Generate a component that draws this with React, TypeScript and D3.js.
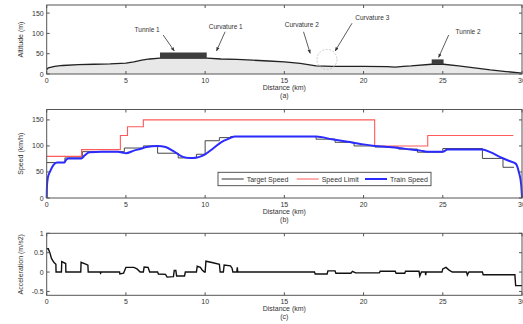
import * as d3 from "d3";

// distance axis shared by the three panels
const distTicks = [0, 5, 10, 15, 20, 25, 30];

// (a) altitude profile
const altKm = [0, 0.1, 0.5, 1, 2, 3, 4, 5, 5.5, 6, 6.5, 7.15, 10.1, 11, 12, 13, 14, 15, 16, 17, 18, 20, 21.5, 22, 22.5, 23, 24.3, 25.05, 26, 27, 28, 29, 30];
const altM = [11, 15, 19, 21, 23, 24, 25, 27, 30, 34, 37, 39, 39, 37, 36, 34, 32, 30, 26, 20, 19, 19, 18, 17, 19, 20, 24, 24, 20, 15, 10, 6, 2];
const altTicks = [0, 50, 100, 150];
const tunnelStart = [7.15, 24.3];
const tunnelEnd = [10.1, 25.05];
const tunnelLow = [39, 24];
const tunnelHigh = [53, 36];
const noteText = ["Tunnle 1", "Curvature 1", "Curvature 2", "Curvature 3", "Tunnle 2"];
const noteKm = [6.34, 11.3, 16.1, 20.55, 26.6];
const noteAlt = [108, 116, 121, 137, 104];
const arrowFromKm = [7.35, 11.26, 16.21, 19.27, 25.37];
const arrowFromAlt = [96, 104, 104, 125, 96];
const arrowToKm = [8.05, 10.72, 16.63, 18.21, 24.74];
const arrowToAlt = [57, 57, 51, 57, 41];

// (b) speeds
const speedTicks = [0, 50, 100, 150];
const limitKm = [0, 2.2, 4.65, 5.1, 6.1, 20.7, 24.05, 29.45];
const limitKmh = [80, 93, 120, 137, 150, 100, 120];
const targetKm = [0, 1.15, 2.25, 4.9, 6.1, 7.0, 8.3, 9.45, 10.0, 10.9, 11.6, 17.0, 18.2, 19.4, 20.7, 22.2, 23.4, 25.0, 27.5, 28.8, 29.5];
const targetKmh = [68, 77, 89, 96, 100, 86, 77, 84, 110, 116, 118, 113, 107, 100, 98, 94, 88, 95, 76, 59];
const trainKm = [0, 0.02, 0.08, 0.2, 0.42, 0.65, 1.1, 1.2, 1.35, 2.2, 2.4, 2.7, 3.5, 4.5, 4.8, 5.0, 5.5, 6.0, 6.3, 7.0, 7.5, 8.0, 8.6, 9.0, 9.5, 10.0, 10.5, 11.0, 11.5, 11.9, 17.0, 18.0, 19.0, 20.0, 20.7, 21.5, 22.2, 23.0, 23.6, 24.0, 25.0, 25.3, 26.0, 27.5, 28.0, 28.6, 29.2, 29.6, 29.8, 29.95, 30.0];
const trainKmh = [0, 25, 40, 50, 63, 68, 68, 72, 76, 76, 82, 88, 89, 89, 87, 86, 91, 95, 98, 100, 98, 90, 79, 77, 78, 84, 95, 107, 114, 118, 118, 113, 108, 103, 100, 98, 96, 93, 91, 89, 89, 93, 93, 93, 88, 79, 71, 66, 50, 25, 0];
const legendNames = ["Target Speed", "Speed Limit", "Train Speed"];

// (c) acceleration
const accTicks = [-0.5, 0, 0.5, 1];
const accKm = [0, 0.1, 0.2, 0.3, 0.45, 0.58, 0.59, 0.93, 0.95, 1.2, 1.21, 2.15, 2.17, 2.5, 2.6, 2.62, 3.38, 3.4, 3.45, 4.6, 4.62, 4.85, 5.0, 5.5, 5.7, 5.9, 6.1, 6.15, 6.4, 6.5, 7.0, 7.05, 7.5, 7.6, 8.0, 8.05, 8.15, 8.2, 8.7, 8.75, 9.45, 9.5, 9.7, 9.8, 9.95, 10.0, 10.05, 10.5, 10.9, 10.95, 11.15, 11.2, 11.6, 11.7, 11.75, 12.0, 12.03, 12.06, 16.9, 16.95, 17.7, 17.75, 18.2, 18.25, 19.2, 19.3, 19.5, 21.0, 21.05, 22.0, 22.05, 22.6, 22.65, 23.5, 23.55, 23.65, 23.9, 23.92, 23.95, 24.95, 25.0, 25.2, 25.4, 25.6, 26.5, 26.55, 26.65, 27.5, 27.55, 29.55, 29.6, 30];
const accVal = [0.6, 0.6, 0.5, 0.35, 0.25, 0.2, 0, 0, 0.27, 0.22, 0, 0, 0.25, 0.2, 0.18, 0, 0, -0.03, 0, 0, -0.05, -0.03, 0.12, 0.12, 0.08, 0, 0, 0.13, 0.12, 0, 0, -0.05, -0.06, -0.13, -0.12, 0.04, 0.04, -0.1, -0.1, 0, 0, 0.15, 0.12, 0.06, 0, 0, 0.28, 0.24, 0.2, 0, 0, 0.18, 0.16, 0.1, 0, 0, 0.12, 0, 0, -0.05, -0.05, 0.03, 0.03, -0.03, -0.03, 0.02, -0.02, -0.02, 0.02, 0.02, -0.03, -0.03, 0.02, 0.02, -0.1, 0, 0, -0.08, 0, 0, 0.08, 0.12, 0.05, 0, 0, -0.08, 0, 0, -0.07, -0.07, -0.35, -0.35];

const W = 523;
const H = 324;
const font = "'Liberation Sans', Arial, sans-serif";
const ink = "#333";
const x = d3.scaleLinear().domain([0, 30]).range([46.7, 522]);

type PanelProps = {
  y: d3.ScaleLinear<number, number>;
  yTicks: number[];
  yLabel: string;
  tag: string;
  children?: React.ReactNode;
};

function Panel({ y, yTicks, yLabel, tag, children }: PanelProps) {
  const [y0, y1] = y.range();
  const [x0, x1] = x.range();
  const mid = (y0 + y1) / 2;
  return (
    <g>
      {children}
      <rect x={x0} y={y1} width={x1 - x0} height={y0 - y1} fill="none" stroke="#555" strokeWidth={1} />
      {distTicks.map((t) => (
        <g key={"xt" + t}>
          <line x1={x(t)} x2={x(t)} y1={y0} y2={y0 - 3} stroke="#555" />
          <line x1={x(t)} x2={x(t)} y1={y1} y2={y1 + 3} stroke="#555" />
          <text x={x(t)} y={y0 + 9} fontSize={7} textAnchor="middle" fill={ink}>{t}</text>
        </g>
      ))}
      {yTicks.map((t) => (
        <g key={"yt" + t}>
          <line x1={x0} x2={x0 + 3} y1={y(t)} y2={y(t)} stroke="#555" />
          <line x1={x1} x2={x1 - 3} y1={y(t)} y2={y(t)} stroke="#555" />
          <text x={x0 - 3} y={y(t) + 2.5} fontSize={7} textAnchor="end" fill={ink}>{t}</text>
        </g>
      ))}
      <text x={(x0 + x1) / 2} y={y0 + 16} fontSize={7} textAnchor="middle" fill={ink}>Distance (km)</text>
      <text x={(x0 + x1) / 2} y={y0 + 23.5} fontSize={7} textAnchor="middle" fill={ink}>{tag}</text>
      <text transform={`translate(23,${mid}) rotate(-90)`} fontSize={7} textAnchor="middle" fill={ink}>{yLabel}</text>
    </g>
  );
}

export default function App() {
  const yA = d3.scaleLinear().domain([0, 170]).range([74, 5]);
  const yB = d3.scaleLinear().domain([0, 170]).range([198, 109.5]);
  const yC = d3.scaleLinear().domain([-0.6, 1]).range([295.3, 233.3]);

  const altArea = d3.area<number>().x((d, i) => x(altKm[i])).y0(yA(0)).y1((d) => yA(d));
  const altLine = d3.line<number>().x((d, i) => x(altKm[i])).y((d) => yA(d));

  const stepLine = (ks: number[], vs: number[]) =>
    d3.line<number>().x((d) => x(d)).y((d, i) => yB(vs[Math.min(i, vs.length - 1)])).curve(d3.curveStepAfter)(ks);
  const trainLine = d3.line<number>().x((d) => x(d)).y((d, i) => yB(trainKmh[i])).curve(d3.curveMonotoneX);
  const accLine = d3.line<number>().x((d) => x(d)).y((d, i) => yC(accVal[i]));

  const legendColors = [ink, "#ff5a5a", "#2b2bff"];
  const legendX = [221.7, 296.7, 365];

  return (
    <svg width={W} height={H} style={{ position: "absolute", left: 0, top: 0, fontFamily: font }}>
      <defs>
        <marker id="arr" viewBox="0 0 10 10" refX="9" refY="5" markerWidth="5" markerHeight="5" orient="auto">
          <path d="M0,1 L10,5 L0,9 z" fill="#333" />
        </marker>
      </defs>
      <rect width={W} height={H} fill="#fff" />

      <Panel y={yA} yTicks={altTicks} yLabel="Altitude (m)" tag="(a)">
        <path d={altArea(altM) ?? ""} fill="#e8e8e8" />
        <path d={altLine(altM) ?? ""} fill="none" stroke="#222" strokeWidth={1.3} />
        {tunnelStart.map((s, i) => (
          <rect key={"tn" + i} x={x(s)} y={yA(tunnelHigh[i])} width={x(tunnelEnd[i]) - x(s)}
            height={yA(tunnelLow[i]) - yA(tunnelHigh[i])} fill="#3d3d3d" />
        ))}
        <circle cx={x(17.69)} cy={yA(36)} r={10} fill="none" stroke="#bbb" strokeWidth={0.8} strokeDasharray="2,1.5" />
        {noteText.map((t, i) => (
          <g key={"nt" + i}>
            <text x={x(noteKm[i])} y={yA(noteAlt[i]) + 2} fontSize={6.5} textAnchor="middle" fill={ink}>{t}</text>
            <line x1={x(arrowFromKm[i])} y1={yA(arrowFromAlt[i])} x2={x(arrowToKm[i])} y2={yA(arrowToAlt[i])}
              stroke="#333" strokeWidth={0.8} markerEnd="url(#arr)" />
          </g>
        ))}
      </Panel>

      <Panel y={yB} yTicks={speedTicks} yLabel="Speed (km/h)" tag="(b)">
        <path d={stepLine(targetKm, targetKmh) ?? ""} fill="none" stroke={ink} strokeWidth={0.9} />
        <path d={stepLine(limitKm, limitKmh) ?? ""} fill="none" stroke="#ff5a5a" strokeWidth={1.1} />
        <path d={trainLine(trainKm) ?? ""} fill="none" stroke="#2b2bff" strokeWidth={2} />
        <rect x={218} y={172.3} width={213} height={13.4} fill="#fff" stroke="#444" strokeWidth={0.9} />
        {legendNames.map((n, i) => (
          <g key={"lg" + i}>
            <line x1={legendX[i]} x2={legendX[i] + 22} y1={179} y2={179} stroke={legendColors[i]} strokeWidth={i === 2 ? 2 : 1} />
            <text x={legendX[i] + 25} y={181.5} fontSize={7} fill={ink}>{n}</text>
          </g>
        ))}
      </Panel>

      <Panel y={yC} yTicks={accTicks} yLabel="Acceleration (m/s2)" tag="(c)">
        <path d={accLine(accKm) ?? ""} fill="none" stroke="#111" strokeWidth={1.4} />
      </Panel>
    </svg>
  );
}
